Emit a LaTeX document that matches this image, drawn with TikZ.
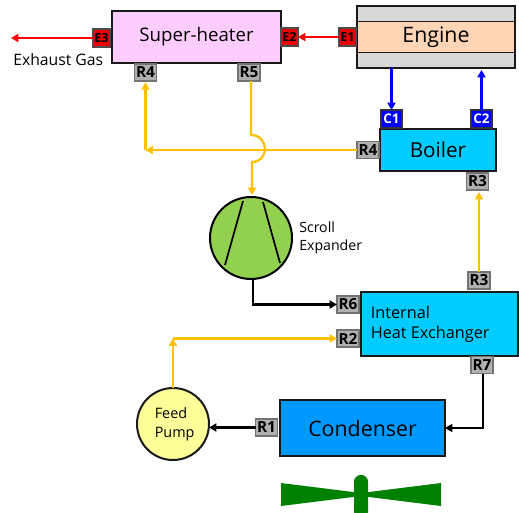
\documentclass[tikz,border=0pt]{standalone}
\usepackage{fontspec}
\setmainfont{Open Sans}
\usetikzlibrary{arrows.meta}
\definecolor{oline}{HTML}{FFC000}
\definecolor{shfill}{HTML}{FFCCFF}
\definecolor{cyanfill}{HTML}{00CCFF}
\definecolor{condfill}{HTML}{0099FF}
\definecolor{expfill}{HTML}{92D050}
\definecolor{engfill}{HTML}{FFD5B5}
\definecolor{pumpfill}{HTML}{FFFF99}
\definecolor{bandfill}{HTML}{D9D9D9}
\definecolor{fanfill}{HTML}{008000}
\definecolor{rfill}{HTML}{B0B0B0}
\definecolor{efill}{HTML}{EE0000}
\tikzset{
  px/.style={x=0.75pt,y=-0.75pt},
  wh/.style 2 args={minimum width=#1*0.75pt,minimum height=#2*0.75pt,inner sep=0pt,outer sep=0pt},
  blk/.style={draw=black!90,line width=1.5pt,text=black},
  rlab/.style={wh={22}{17},fill=rfill,draw=black!55,line width=1pt,font=\fontsize{11.5pt}{12pt}\selectfont\bfseries},
  elab/.style={wh={17}{18},fill=efill,draw=black!70,line width=.8pt,font=\fontsize{9.5pt}{10pt}\selectfont\bfseries},
  clab/.style={wh={21}{18},fill=blue,draw=black!80,line width=1pt,text=white,font=\fontsize{10pt}{10pt}\selectfont\bfseries},
  small/.style={align=left,inner sep=0pt},
  flow/.style={line width=1.7pt,-{Triangle[length=5.5pt,width=6pt]}},
}
\begin{document}
\begin{tikzpicture}[px]
\useasboundingbox (0,0) rectangle (519,512);
% Super-heater
\node[blk,wh={169}{52},fill=shfill,font=\fontsize{14pt}{16pt}\selectfont] (sh) at (196.5,37) {\raisebox{-1.5pt}{Super-heater}};
\node[elab] (e3) at (101.5,38) {E3};
\node[elab] (e2) at (289.5,37) {E2};
\node[rlab] (shr4) at (145.5,72.5) {R4};
\node[rlab] (shr5) at (249,72.5) {R5};
\coordinate (exh) at (11,38);
\node[small,anchor=west,font=\fontsize{11.8pt}{14pt}\selectfont] (gas) at (13,60) {Exhaust Gas};
% Engine
\node[blk,wh={158}{62},fill=bandfill] (eng) at (436,37) {};
\node[blk,wh={158}{31},fill=engfill,font=\fontsize{16pt}{18pt}\selectfont,line width=1.2pt] (engc) at (436,37) {\raisebox{-1.5pt}{Engine}};
\node[elab] (e1) at (347.5,37) {E1};
% Boiler
\node[blk,wh={116}{42},fill=cyanfill,font=\fontsize{15.5pt}{18pt}\selectfont] (boil) at (438,150) {Boiler};
\node[clab] (c1) at (391.5,119) {C1};
\node[clab] (c2) at (481.5,119) {C2};
\node[rlab] (br4) at (368,150) {R4};
\node[rlab] (br3) at (477.5,181.5) {R3};
% Expander
\node[circle,draw=black,line width=1.5pt,fill=expfill,wh={82}{82}] (exp) at (251,238) {};
\draw[line width=1.3pt] (243,201) -- (225,265);
\draw[line width=1.3pt] (263,202) -- (280,263);
\node[small,anchor=north west,font=\fontsize{10.6pt}{14pt}\selectfont] (explab) at (299,221) {Scroll\\Expander};
% IHX
\node[blk,wh={157}{64},fill=cyanfill] (ihx) at (439.5,324) {};
\node[small,anchor=west,font=\fontsize{12.2pt}{15pt}\selectfont] (ihxlab) at (370.5,324) {Internal\\Heat Exchanger};
\node[rlab] (ir3) at (479,280.5) {R3};
\node[rlab] (ir6) at (348,304.5) {R6};
\node[rlab] (ir2) at (348,338.5) {R2};
\node[rlab] (ir7) at (482,365) {R7};
% Condenser
\node[blk,wh={165}{56},fill=condfill,font=\fontsize{16pt}{18pt}\selectfont] (cond) at (362.5,428) {Condenser};
\node[rlab] (cr1) at (266.5,427.5) {R1};
% Pump
\node[circle,blk,wh={72}{72},fill=pumpfill] (pump) at (173,424) {};
\node[small,anchor=west,font=\fontsize{10.8pt}{14pt}\selectfont] (pumplab) at (154.5,424) {Feed\\Pump};
% Fan
\fill[fanfill] (281,483) -- (361,493) -- (441,483) -- (441,506) -- (361,496) -- (281,506) -- cycle;
\fill[fanfill,rounded corners=5pt] (354,475) rectangle (368,518);
% Corners
\coordinate (j4) at (shr4.south |- br4.west);
\coordinate (p2) at (pump.north |- ir2.west);
% Connectors
\draw[flow,red] (e1.west) -- (e2.east);
\draw[flow,red] (e3.west) -- (exh);
\draw[flow,blue] (c1.north |- eng.south) -- (c1.north);
\draw[flow,blue] (c2.north) -- ([yshift=-1.5pt]c2.north |- eng.south);
\draw[flow,oline] (br4.west) -- (j4);
\draw[flow,oline] (j4) -- ([yshift=-1pt]shr4.south);
\draw[flow,oline] (251,81) -- (251,135) .. controls (260,135) and (265,142) .. (265,149) .. controls (265,156) and (260,162) .. (252,162) -- (252,195);
\draw[flow,oline] (ir3.north) -- ([yshift=-1.5pt]ir3.north |- br3.south);
\draw[flow,oline] (pump.north) -- (p2);
\draw[flow,oline] (p2) -- (ir2.west);
\draw[flow,black] (253,279) |- (ir6.west);
\draw[flow,black] (483,373.5) |- (cond.east);
\draw[flow,black] (cr1.west) -- (cr1.west -| pump.east);
\end{tikzpicture}
\end{document}
